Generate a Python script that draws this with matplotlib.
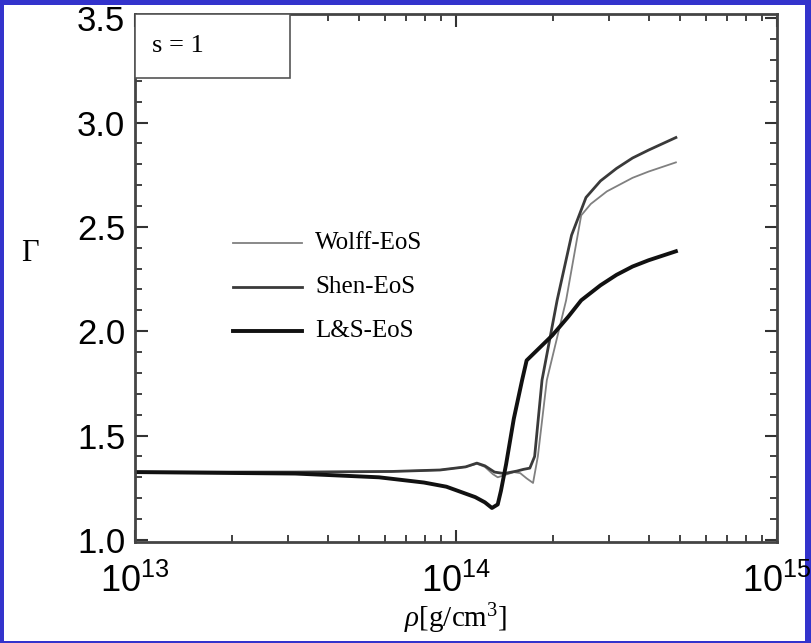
import numpy as np
import matplotlib.pyplot as plt
from matplotlib.patches import Rectangle
from matplotlib.ticker import FixedLocator, MultipleLocator, NullFormatter

serif = "Liberation Serif"
plt.rcParams["mathtext.fontset"] = "custom"
plt.rcParams["mathtext.rm"] = serif
plt.rcParams["mathtext.it"] = serif + ":italic"

# adiabatic index vs density, three equations of state (log10 rho, Gamma)
wolff_logrho = [13.0, 13.5, 13.8, 13.95, 14.03, 14.065, 14.09, 14.115, 14.13, 14.15,
                14.18, 14.2, 14.22, 14.24, 14.255, 14.283, 14.343, 14.39, 14.42, 14.47,
                14.55, 14.6, 14.685]
wolff_gamma = [1.325, 1.325, 1.328, 1.335, 1.35, 1.365, 1.35, 1.315, 1.3, 1.31,
               1.325, 1.32, 1.295, 1.273, 1.40, 1.766, 2.148, 2.555, 2.61, 2.67,
               2.735, 2.765, 2.809]

shen_logrho = [13.0, 13.5, 13.8, 13.95, 14.03, 14.065, 14.09, 14.12, 14.15, 14.19,
               14.21, 14.23, 14.245, 14.268, 14.315, 14.36, 14.405, 14.45, 14.5,
               14.55, 14.6, 14.685]
shen_gamma = [1.325, 1.325, 1.328, 1.335, 1.35, 1.368, 1.355, 1.325, 1.318, 1.33,
              1.338, 1.344, 1.40, 1.766, 2.148, 2.46, 2.641, 2.72, 2.78,
              2.83, 2.868, 2.928]

ls_logrho = [13.0, 13.5, 13.76, 13.9, 13.97, 14.06, 14.09, 14.112, 14.13, 14.14,
             14.156, 14.18, 14.206, 14.22, 14.26, 14.3, 14.35, 14.39, 14.45, 14.5,
             14.55, 14.6, 14.685]
ls_gamma = [1.325, 1.318, 1.30, 1.275, 1.255, 1.205, 1.18, 1.153, 1.17, 1.235,
            1.362, 1.58, 1.766, 1.86, 1.92, 1.98, 2.07, 2.148, 2.22, 2.27,
            2.31, 2.34, 2.383]

eos_names = ["Wolff-EoS", "Shen-EoS", "L&S-EoS"]
eos_colors = ["#808080", "#3a3a3a", "#111111"]
eos_widths = [1.3, 2.0, 2.8]

xticks = [1e13, 1e14, 1e15]
xtick_labels = [r"$\mathregular{10^{13}}$", r"$\mathregular{10^{14}}$", r"$\mathregular{10^{15}}$"]
yticks = [1.0, 1.5, 2.0, 2.5, 3.0, 3.5]

fig = plt.figure(figsize=(8.11, 6.43), dpi=100)
fig.patch.set_facecolor("#3333cc")
fig.patches.append(Rectangle((4 / 811, 2 / 643), 801 / 811, 636 / 643,
                             transform=fig.transFigure, facecolor="white",
                             edgecolor="none", zorder=0))

ax = fig.add_axes([135 / 811, 101 / 643, 642 / 811, 528 / 643])
ax.set_zorder(1)

curves = [(wolff_logrho, wolff_gamma), (shen_logrho, shen_gamma), (ls_logrho, ls_gamma)]
for (lr, g), c, w in zip(curves, eos_colors, eos_widths):
    ax.plot(10 ** np.array(lr), g, color=c, lw=w, solid_joinstyle="round")

ax.set_xscale("log")
ax.set_xlim(1e13, 1e15)
ax.set_ylim(0.99, 3.52)

ax.xaxis.set_major_locator(FixedLocator(xticks))
ax.set_xticklabels(xtick_labels)
minors = [m * 10.0 ** e for e in (13, 14) for m in range(2, 10)]
ax.xaxis.set_minor_locator(FixedLocator(minors))
ax.xaxis.set_minor_formatter(NullFormatter())
ax.set_yticks(yticks)
ax.set_yticklabels([f"{v:.1f}" for v in yticks])
ax.yaxis.set_minor_locator(MultipleLocator(0.1))

ax.tick_params(which="both", direction="in", top=True, right=True, color="#333333")
ax.tick_params(which="major", length=9, width=1.5)
ax.tick_params(which="minor", length=5, width=1.3)
ax.tick_params(axis="x", which="major", pad=16, labelsize=26)
ax.tick_params(axis="y", which="major", pad=7, labelsize=25)
for lab in ax.get_xticklabels() + ax.get_yticklabels():
    lab.set_family("Liberation Sans")

for sp in ax.spines.values():
    sp.set_linewidth(2.0)
    sp.set_color("#444444")

ax.set_xlabel(r"$\rho$[g/cm$^3$]", fontsize=21, family=serif, labelpad=1)
ax.set_ylabel(r"$\Gamma$", fontsize=22, family=serif, rotation=0, labelpad=0)
ax.yaxis.set_label_coords(-105 / 642, (542 - 268) / 528)

# s = 1 label box in upper left corner
ax.add_patch(Rectangle((0, 1 - 64 / 528), 155 / 642, 64 / 528, transform=ax.transAxes,
                       facecolor="white", edgecolor="#555555", lw=1.2, zorder=3))
ax.text(17 / 642, 1 - 32 / 528, "s = 1", transform=ax.transAxes, fontsize=19,
        family=serif, va="center", zorder=4)

# hand-placed legend
leg_y = [243, 287, 331]
for name, c, w, yp in zip(eos_names, eos_colors, eos_widths, leg_y):
    yf = (542 - yp) / 528
    ax.plot([(233 - 135) / 642, (302 - 135) / 642], [yf, yf], transform=ax.transAxes,
            color=c, lw=w)
    ax.text((315 - 135) / 642, yf, name, transform=ax.transAxes, fontsize=18,
            family=serif, va="center")

fig.savefig("out.png", dpi=100, facecolor=fig.get_facecolor())
